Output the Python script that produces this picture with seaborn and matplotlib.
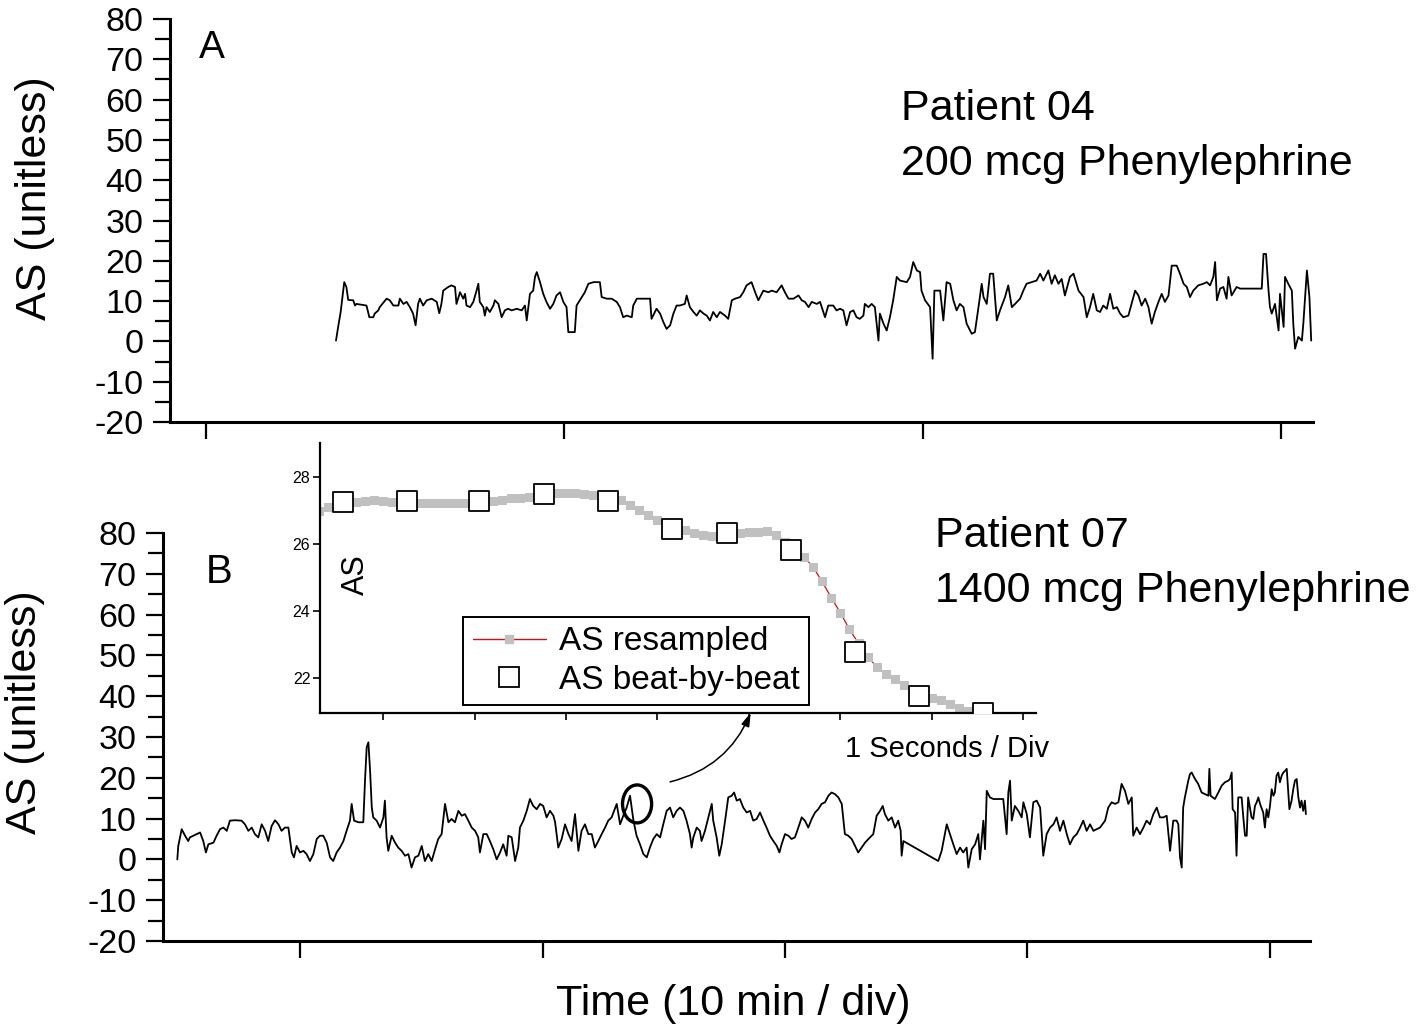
import matplotlib
matplotlib.use("Agg")
import matplotlib.pyplot as plt
import seaborn as sns
from matplotlib.patches import Ellipse
from matplotlib.lines import Line2D

sns.set_style("ticks")
plt.rcParams['font.family'] = ['Liberation Sans', 'DejaVu Sans']
plt.rcParams['axes.unicode_minus'] = False
for k in ('text.color', 'axes.labelcolor', 'xtick.color', 'ytick.color', 'axes.edgecolor'):
    plt.rcParams[k] = 'black'

########## Data ##########
# Panel A: patient 04, time [min], AS [unitless]
t_a = [13.63,13.69,13.76,13.83,13.86,13.92,13.97,14.11,14.16,14.20,
       14.48,14.56,14.67,14.71,14.81,14.85,15.04,15.13,15.23,15.37,
       15.41,15.51,15.60,15.69,15.78,15.85,15.92,15.97,16.06,16.16,
       16.30,16.44,16.51,16.57,16.62,16.76,16.85,16.95,16.99,17.09,
       17.18,17.23,17.27,17.37,17.46,17.55,17.60,17.64,17.74,17.78,
       17.83,17.92,18.02,18.06,18.16,18.25,18.34,18.43,18.53,18.67,
       18.81,18.90,18.95,19.04,19.13,19.18,19.23,19.32,19.41,19.50,
       19.60,19.69,19.78,19.88,19.97,20.06,20.11,20.29,20.34,20.43,
       20.57,20.67,20.81,20.99,21.04,21.18,21.32,21.46,21.55,21.64,
       21.74,21.88,21.92,22.02,22.39,22.43,22.57,22.67,22.76,22.85,
       22.95,23.04,23.13,23.22,23.36,23.41,23.50,23.60,23.69,23.78,
       23.88,23.97,24.06,24.15,24.25,24.34,24.48,24.57,24.67,24.76,
       24.90,24.99,25.08,25.22,25.32,25.41,25.55,25.69,25.78,25.92,
       26.06,26.15,26.25,26.39,26.53,26.62,26.71,26.81,26.90,27.04,
       27.13,
       27.27,27.36,27.50,27.59,27.69,27.78,27.87,27.97,28.06,28.15,
       28.24,28.34,28.38,28.48,28.57,28.66,28.76,28.80,28.90,28.99,
       29.08,29.17,29.27,29.36,29.55,29.64,29.73,29.83,29.92,29.96,
       30.06,30.20,30.27,30.32,30.48,30.57,30.66,30.76,30.85,30.94,
       31.03,31.13,31.22,31.36,31.45,31.55,31.64,31.69,31.78,31.87,
       31.96,32.06,32.15,32.29,32.38,32.48,32.57,32.71,32.80,32.89,
       33.03,33.17,33.27,33.36,33.50,33.59,33.68,33.78,33.87,33.96,
       34.10,34.20,34.34,34.48,34.57,34.66,34.75,34.85,34.94,35.03,
       35.13,35.22,35.31,35.41,35.50,35.59,35.73,35.82,35.92,36.01,
       36.10,36.20,36.29,36.38,36.47,36.57,36.66,36.75,36.85,36.94,
       37.08,37.17,37.27,37.36,37.45,37.54,37.68,37.82,37.92,38.01,
       38.10,38.15,38.20,38.29,38.38,38.47,38.52,38.61,38.75,38.85,
       39.45,39.50,39.57,39.64,39.68,39.73,39.82,39.92,39.96,40.06,
       40.10,40.19,40.29,40.33,40.38,40.47,40.57,40.61,40.71,40.78,
       40.83]
as_a = [0.2,3.6,7.3,12.6,14.7,13.5,10.3,10.2,8.9,9.3,
        8.9,6.0,6.0,6.9,7.7,8.5,10.6,10.2,8.9,8.9,
        10.6,9.3,9.8,8.5,6.9,4.0,9.3,10.6,8.9,10.2,
        10.6,9.8,7.0,9.3,12.6,13.5,13.9,13.5,9.3,12.2,
        10.6,11.8,8.9,8.5,9.8,12.6,14.3,9.8,8.5,6.4,
        8.5,7.3,8.9,10.2,9.3,6.0,7.7,8.1,7.7,8.1,
        7.7,8.9,5.2,11.8,12.6,16.0,17.2,14.7,11.8,9.8,
        8.1,9.3,11.4,12.2,9.8,8.5,2.3,2.3,8.9,10.2,
        12.2,14.3,14.7,14.7,11.0,10.6,10.6,9.8,8.5,6.0,
        6.4,6.0,8.9,10.6,10.6,5.6,8.1,6.9,4.8,3.1,
        4.0,6.9,8.9,8.9,9.3,11.4,8.5,7.3,6.4,7.7,
        6.9,6.4,5.2,7.3,6.0,7.3,6.4,5.6,10.2,10.6,
        11.0,12.2,13.9,14.7,12.2,10.2,12.6,12.2,12.6,12.2,
        13.9,12.2,10.6,10.6,11.4,10.2,9.8,8.5,9.8,9.3,
        9.8,
        6.0,8.9,8.9,7.7,8.1,7.7,4.0,7.3,7.7,6.0,
        5.6,6.4,9.3,8.5,9.3,8.5,0.2,6.9,4.4,2.7,
        6.0,10.2,16.0,15.1,14.7,16.0,19.7,17.6,17.2,12.6,
        10.2,8.5,-4.3,12.6,12.6,5.2,14.7,14.3,10.2,7.7,
        9.3,8.5,4.4,1.9,2.3,8.5,14.3,11.0,9.3,16.8,
        16.8,5.2,7.7,11.0,13.9,8.5,9.3,10.6,12.6,14.3,
        14.7,15.1,16.8,15.1,17.6,14.3,16.4,14.3,15.5,11.4,
        16.0,16.8,12.6,11.0,6.0,8.5,11.8,7.7,7.3,8.9,
        8.1,11.8,8.1,8.5,6.9,6.0,6.4,9.3,12.6,11.4,
        8.9,10.6,8.5,4.4,7.3,9.8,11.8,9.8,11.4,18.8,
        18.8,16.8,14.3,13.5,11.0,12.6,13.9,14.3,14.7,13.9,
        16.0,19.7,10.2,13.1,13.5,10.6,16.0,11.4,13.5,13.1,
        13.1,21.7,21.7,12.6,8.5,6.9,9.3,2.7,11.8,3.6,
        16.0,14.3,12.6,4.4,-1.8,1.1,0.2,4.4,17.6,11.0,
        0.2]

# Panel B: patient 07, time [min], AS [unitless]
t_b = [4.94,4.98,5.12,5.26,5.39,5.46,5.60,5.74,5.88,6.01,
       6.12,6.22,6.43,6.56,6.70,6.84,6.98,7.11,7.32,7.59,
       7.73,7.87,8.01,8.14,8.28,8.42,8.56,8.69,8.83,8.97,
       9.11,9.24,9.38,9.52,9.66,9.75,9.86,10.00,10.14,10.27,
       10.41,10.55,10.69,10.82,10.96,11.10,11.24,11.37,11.51,11.65,
       11.79,11.92,12.06,12.13,12.23,12.41,12.61,12.68,12.75,12.82,
       12.89,12.96,13.02,13.16,13.30,13.44,13.50,13.57,13.64,13.78,
       13.92,14.05,14.19,14.33,14.47,14.60,14.74,14.88,15.02,15.15,
       15.29,15.43,15.57,15.70,15.84,15.98,16.12,16.25,16.39,16.53,
       16.67,16.80,16.94,17.08,17.22,17.35,17.42,17.56,17.70,17.83,
       17.97,18.11,18.25,18.38,18.52,18.59,18.73,18.87,19.00,19.07,
       19.21,19.35,19.48,19.62,19.76,19.90,20.03,20.17,20.31,20.45,
       20.52,20.65,20.79,20.93,21.07,21.20,21.34,21.48,21.61,21.75,
       21.89,22.03,22.16,22.30,22.44,22.58,22.71,22.85,23.06,23.20,
       23.33,23.47,23.61,23.75,23.88,24.02,24.16,24.30,24.43,24.57,
       24.71,24.85,24.98,25.12,25.26,
       25.39,25.53,25.67,25.81,25.94,26.08,26.15,26.22,26.36,26.49,
       26.56,26.70,26.84,26.98,27.04,27.18,27.29,27.39,27.53,27.66,
       27.80,27.90,28.01,28.14,28.28,28.42,28.56,28.69,28.83,28.97,
       29.11,29.24,29.38,29.52,29.66,29.77,29.86,30.00,30.14,30.27,
       30.41,30.55,30.69,30.82,30.96,31.10,31.24,31.37,31.51,31.65,
       31.79,31.92,32.06,32.20,32.34,32.47,32.61,32.75,32.89,33.02,
       33.16,33.30,33.44,33.64,33.78,33.92,34.03,34.12,34.26,34.40,
       34.54,34.67,34.77,34.81,34.88,36.32,36.46,36.67,36.80,36.94,
       37.08,37.22,37.35,37.49,37.56,37.70,37.84,37.97,38.04,38.18,
       38.25,38.32,38.45,38.59,39.00,39.14,39.21,39.28,39.35,39.48,
       39.62,39.76,39.83,39.97,40.10,40.24,40.38,40.52,40.65,40.79,
       40.93,41.07,41.20,41.34,41.48,41.62,41.75,41.89,42.03,42.17,
       42.30,42.44,42.58,42.72,42.85,42.99,43.20,43.33,43.47,43.61,
       43.75,43.88,44.02,44.16,44.30,44.36,44.50,44.64,44.78,44.91,
       45.05,45.19,45.33,45.46,45.60,45.74,45.88,46.01,46.15,46.22,
       46.29,46.36,46.42,46.49,46.63,46.70,46.77,46.91,47.04,47.18,
       47.32,47.46,47.50,47.55,47.73,47.87,48.01,48.14,48.28,48.35,
       48.42,48.46,48.56,48.62,48.69,48.83,48.90,48.97,49.04,49.10,
       49.17,49.24,49.31,49.38,49.45,49.52,49.59,49.72,49.79,49.86,
       49.93,50.00,50.07,50.14,50.20,50.27,50.34,50.41,50.48,50.55,
       50.62,50.69,50.73,50.80,50.89,50.96,51.03,51.10,51.17,51.24,
       51.30,51.37,51.44,51.48]
as_b = [0.0,3.3,7.4,5.8,4.5,5.4,5.8,6.2,6.6,4.5,
        1.7,3.7,4.1,5.8,7.4,7.8,7.0,9.5,9.6,9.5,
        8.6,7.0,7.8,6.2,5.4,8.6,7.0,4.5,8.2,9.6,
        8.6,7.0,7.8,7.8,1.7,0.5,3.3,1.7,2.1,1.3,
        -0.4,1.3,5.0,5.8,5.8,4.1,0.5,-0.4,1.7,2.9,
        4.5,7.0,9.5,13.6,9.5,9.1,9.1,19.3,27.5,28.7,
        21.7,12.7,10.3,9.5,7.8,10.3,14.4,5.4,2.1,5.8,
        4.1,2.9,2.1,0.9,1.3,-2.0,0.5,0.9,3.3,-0.4,
        1.3,-0.4,2.5,5.0,6.2,13.6,9.1,9.9,9.1,11.9,
        10.7,11.1,9.5,7.8,7.0,5.4,1.7,6.2,6.2,4.5,
        2.5,0.0,1.7,3.7,0.9,5.8,5.4,-0.4,2.9,7.8,
        9.5,11.9,14.8,13.1,12.3,13.6,13.1,10.3,11.9,10.7,
        9.1,2.9,5.0,8.6,6.2,4.5,11.1,2.1,7.0,8.6,
        6.2,6.2,2.9,4.5,6.2,7.8,9.5,10.3,13.6,8.6,
        10.7,12.7,15.6,9.5,5.8,3.7,1.3,0.5,2.9,5.0,
        6.2,5.4,8.6,11.9,12.7,
        10.3,11.9,12.7,11.9,9.5,6.2,2.9,5.4,7.8,7.0,
        4.5,7.0,10.3,13.6,9.5,5.4,0.9,3.7,9.5,15.2,
        15.6,16.4,14.4,14.8,12.7,11.5,11.9,9.5,9.9,11.5,
        9.5,7.8,5.8,4.5,3.3,1.7,3.7,6.2,5.8,5.0,
        5.4,7.8,10.3,9.5,7.8,9.9,11.5,12.3,13.6,14.0,
        15.6,16.4,16.0,15.2,13.6,6.2,5.8,5.0,3.3,1.7,
        2.9,4.1,5.0,6.2,10.7,11.9,13.1,11.1,9.5,10.3,
        7.8,9.5,7.0,0.9,4.5,-0.4,2.1,8.6,6.2,3.7,
        1.3,2.9,1.7,2.9,-2.0,2.5,3.7,6.2,0.0,9.5,
        2.5,16.8,15.2,14.8,14.8,6.2,16.4,19.3,9.5,13.1,
        11.9,10.3,14.0,11.1,5.4,14.0,14.4,12.7,0.9,6.2,
        7.8,8.6,10.3,7.0,9.5,6.2,3.7,5.4,6.2,7.8,
        9.5,7.0,8.6,7.0,7.4,7.8,9.5,12.7,14.0,13.6,
        14.0,18.5,16.8,13.6,15.2,5.8,7.8,6.2,7.8,9.5,
        8.6,11.1,12.7,10.3,10.3,10.7,2.1,9.5,9.5,8.6,
        0.5,-2.0,12.7,15.2,19.3,20.9,21.3,19.7,18.5,16.4,
        16.0,15.6,22.2,15.6,14.8,16.4,18.1,18.9,19.3,19.7,
        21.3,12.3,11.5,0.9,15.2,15.2,10.3,5.8,5.8,15.2,
        12.7,10.3,9.9,13.1,14.0,15.2,13.6,11.5,7.8,12.3,
        10.3,13.1,17.2,15.6,16.4,20.5,21.3,18.9,20.5,21.3,
        21.7,22.2,18.5,12.3,14.4,17.2,19.3,19.7,15.2,12.7,
        14.4,11.9,14.4,11.1]

# Inset: time [s], AS
res_t = [0.3,0.4,0.5,0.6,0.7,0.8,0.9,1.0,1.1,1.2,
         1.3,1.4,1.5,1.6,1.7,1.8,1.9,2.0,2.1,2.2,
         2.3,2.4,2.5,2.6,2.7,2.8,2.9,3.0,3.1,3.2,
         3.3,3.4,3.5,3.6,3.7,3.8,3.9,4.0,4.1,4.2,
         4.3,4.4,4.5,4.6,4.7,4.8,4.9,5.0,5.1,5.2,
         5.3,5.4,5.5,5.6,5.7,5.8,5.9,6.0,6.1,6.2,
         6.3,6.4,6.5,6.6,6.7,6.8,6.9,7.0,7.1,7.2,
         7.3,7.4,7.5]
res_as = [26.99,27.11,27.20,27.24,27.24,27.29,27.31,27.29,27.26,27.25,
          27.24,27.23,27.23,27.23,27.23,27.23,27.23,27.24,27.26,27.29,
          27.31,27.36,27.38,27.41,27.47,27.50,27.51,27.51,27.51,27.49,
          27.46,27.41,27.36,27.31,27.16,27.01,26.87,26.72,26.56,26.44,
          26.40,26.32,26.27,26.24,26.26,26.30,26.32,26.36,26.35,26.37,
          26.27,26.07,25.77,25.62,25.32,24.88,24.40,23.95,23.45,23.03,
          22.64,22.32,22.12,21.96,21.79,21.64,21.49,21.41,21.34,21.22,
          21.09,21.00,20.94]
beat_t = [0.56,1.26,2.05,2.76,3.46,4.16,4.76,5.46,6.16,6.86,7.56]
beat_as = [27.25,27.28,27.28,27.49,27.28,26.45,26.33,25.82,22.78,21.46,20.95]

########## Figure ##########
W, H = 1418, 1029
fig = plt.figure(figsize=(W / 100, H / 100), dpi=100)

def box(l, t, r, b):
    return [l / W, 1 - b / H, (r - l) / W, (b - t) / H]

def ftext(x, y, s, **kw):
    return fig.text(x / W, 1 - y / H, s, color='black', **kw)

ax1 = fig.add_axes(box(170, 19, 1313, 422))
ax2 = fig.add_axes(box(163, 533, 1310, 941))
axin = fig.add_axes(box(320, 443, 1036, 713))

sns.lineplot(x=t_a, y=as_a, ax=ax1, color='black', lw=1.3, sort=False, estimator=None)
sns.lineplot(x=t_b, y=as_b, ax=ax2, color='black', lw=1.3, sort=False, estimator=None)

for ax, xl, xt in [(ax1, (9.0, 40.88), [10, 20, 30, 40]),
                   (ax2, (4.35, 51.65), [10, 20, 30, 40, 50])]:
    ax.set_xlim(*xl)
    ax.set_ylim(-20, 80)
    ax.set_xticks(xt)
    ax.set_xticklabels([])
    ax.set_yticks(range(-20, 81, 10))
    ax.set_yticks(range(-15, 80, 10), minor=True)
    ax.tick_params(axis='y', which='major', direction='out', length=12, width=1.6,
                   labelsize=24.5, pad=7)
    ax.tick_params(axis='y', which='minor', direction='out', length=11, width=1.6)
    ax.tick_params(axis='x', which='major', direction='out', length=12, width=1.6)
    sns.despine(ax=ax)
    for s in ('left', 'bottom'):
        ax.spines[s].set_linewidth(2.2)
    ax.set_xlabel('')
    ax.set_ylabel('')
    ax.patch.set_alpha(0)

# inset
sns.lineplot(x=res_t, y=res_as, ax=axin, color='#cc1010', lw=0.9, marker='s',
             markersize=5.5, markerfacecolor='#c0c0c0', markeredgecolor='#c0c0c0',
             sort=False, estimator=None)
sns.scatterplot(x=beat_t, y=beat_as, ax=axin, marker='s', s=200, facecolor='white',
                edgecolor='black', linewidth=1.3, zorder=5)
axin.set_xlim(0.31, 8.14)
axin.set_ylim(20.955, 29.01)
axin.set_xticks(range(1, 9))
axin.set_xticklabels([])
axin.set_yticks([22, 24, 26, 28])
axin.tick_params(axis='y', direction='out', length=5, width=1.2, labelsize=11.5, pad=2)
axin.tick_params(axis='x', direction='out', length=5, width=1.2)
sns.despine(ax=axin)
for s in ('left', 'bottom'):
    axin.spines[s].set_linewidth(1.6)
axin.set_xlabel('')
axin.set_ylabel('')
axin.patch.set_alpha(0)

handles = [Line2D([0], [0], color='#cc1010', lw=1.0, marker='s', markersize=5.5,
                  markerfacecolor='#c0c0c0', markeredgecolor='#c0c0c0'),
           Line2D([0], [0], ls='none', marker='s', markersize=14, markerfacecolor='white',
                  markeredgecolor='black', markeredgewidth=1.3)]
leg = axin.legend(handles, ['AS resampled', 'AS beat-by-beat'], loc='lower left',
                  bbox_to_anchor=(0.2, 0.03), borderaxespad=0, fontsize=24,
                  frameon=True, fancybox=False, framealpha=1, edgecolor='black',
                  handlelength=2.2, handletextpad=0.4, labelspacing=0.22,
                  borderpad=0.28)
leg.get_frame().set_linewidth(1.4)
for txt in leg.get_texts():
    txt.set_color('black')

# circled beat and arrow to the inset
ax2.add_patch(Ellipse((23.90, 13.6), 1.2, 9.3, fill=False, edgecolor='black', lw=2.4))
ax2.annotate('', xy=(5.02, 20.96), xycoords=axin.transData,
             xytext=(25.26, 19.0), textcoords='data',
             arrowprops=dict(arrowstyle='-|>,head_length=0.8,head_width=0.25',
                             color='black', lw=1.1, shrinkA=0, shrinkB=0,
                             connectionstyle='arc3,rad=0.25'))

# texts
ftext(199, 58, 'A', fontsize=28, va='baseline')
ftext(901, 120, 'Patient 04', fontsize=31, va='baseline')
ftext(901, 175, '200 mcg Phenylephrine', fontsize=31, va='baseline')
ftext(206, 583, 'B', fontsize=29, va='baseline')
ftext(935, 547, 'Patient 07', fontsize=31, va='baseline')
ftext(935, 602, '1400 mcg Phenylephrine', fontsize=31, va='baseline')
ftext(845, 757, '1 Seconds / Div', fontsize=21, va='baseline')
ftext(733, 1015, 'Time (10 min / div)', fontsize=31, ha='center', va='baseline')
ftext(35, 198, 'AS (unitless)', fontsize=31, rotation=90, ha='center', va='center')
ftext(25, 712, 'AS (unitless)', fontsize=31, rotation=90, ha='center', va='center')
ftext(356, 575, 'AS', fontsize=22, rotation=90, ha='center', va='center')

fig.savefig('out.png', dpi=100)
